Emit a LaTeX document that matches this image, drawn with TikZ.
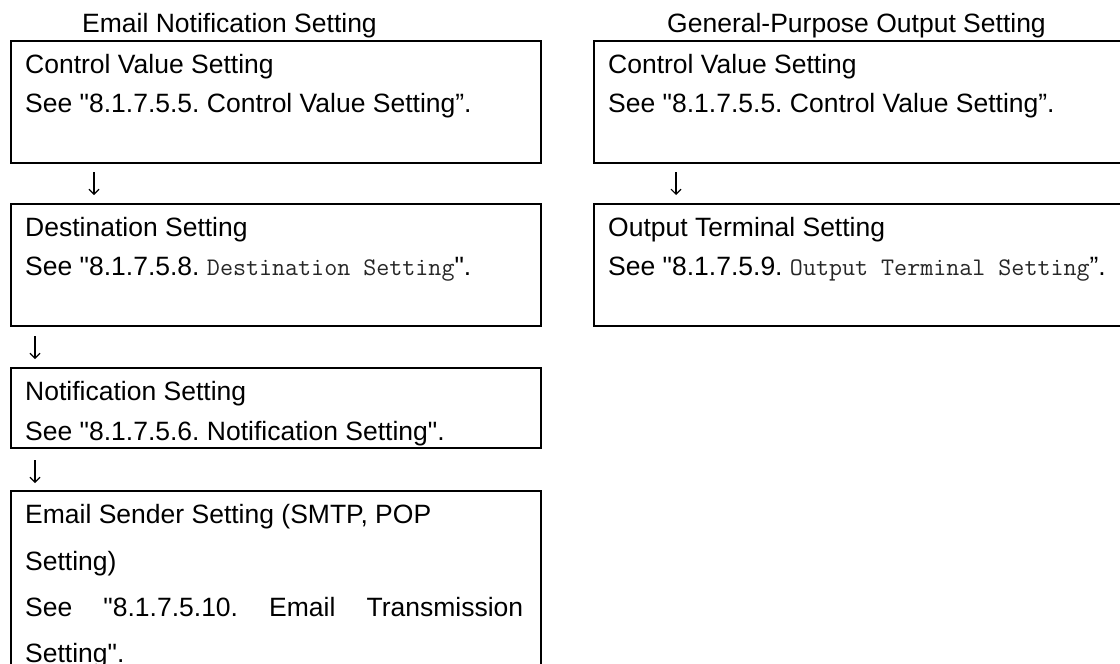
\documentclass[tikz,border=0pt]{standalone}
\usepackage{fontspec}
\newfontfamily\arialfont{Liberation Sans}
\newfontfamily\monofont{Latin Modern Mono}
\usetikzlibrary{arrows.meta}
\frenchspacing
\tikzset{
  box/.style={draw=black, line width=2pt, anchor=north west, inner sep=0pt, minimum width=530pt},
  rbox/.style={draw=black, line width=2pt, anchor=north west, inner sep=0pt, minimum width=560pt},
  txt/.style={anchor=base west, inner sep=0pt, font=\arialfont\fontsize{26.5pt}{30pt}\selectfont},
  flow/.style={line width=1.1pt, -{Straight Barb[length=5pt,width=10pt,line width=1.1pt]}}
}
\newcommand{\mt}[1]{{\color{black!85}\monofont\fontsize{25.3pt}{28pt}\selectfont #1}}
\begin{document}
\begin{tikzpicture}[x=1pt,y=-1pt]
\useasboundingbox (0,0) rectangle (1120,664);
\clip (0,0) rectangle (1120,664);
\fill[white] (0,0) rectangle (1120,664);

% titles
\node[txt] (t1) at (82,32) {Email Notification Setting};
\node[txt] (t2) at (667,32) {General-Purpose Output Setting};

% left column boxes
\node[box, minimum height=122pt] (b1) at (10,40) {};
\node[box, minimum height=122pt] (b2) at (10,203) {};
\node[box, minimum height=80pt] (b3) at (10,367) {};
\node[box, minimum height=220pt] (b4) at (10,490) {};

% right column boxes
\node[rbox, minimum height=122pt] (r1) at (593,40) {};
\node[rbox, minimum height=122pt] (r2) at (593,203) {};

% texts left
\node[txt] (b1a) at (25,73) {Control Value Setting};
\node[txt] (b1b) at (25,112) {See "8.1.7.5.5. Control Value Setting”.};
\node[txt] (b2a) at (25,236) {Destination Setting};
\node[txt] (b2b) at (25,275) {See "8.1.7.5.8. \mt{Destination Setting}".};
\node[txt] (b3a) at (25,400) {Notification Setting};
\node[txt] (b3b) at (25,440) {See "8.1.7.5.6. Notification Setting".};
\node[txt] (b4a) at (25,523) {Email Sender Setting (SMTP, POP};
\node[txt] (b4b) at (25,570) {Setting)};
\node[txt] (b4c) at (25,616) {\makebox[498pt][s]{See "8.1.7.5.10. Email Transmission}};
\node[txt] (b4d) at (25,662) {Setting".};

% texts right
\node[txt] (r1a) at (608,73) {Control Value Setting};
\node[txt] (r1b) at (608,112) {See "8.1.7.5.5. Control Value Setting”.};
\node[txt] (r2a) at (608,236) {Output Terminal Setting};
\node[txt] (r2b) at (608,275) {See "8.1.7.5.9. \mt{Output Terminal Setting}”.};

% arrows
\coordinate (a1s) at (94,172); \coordinate (a1e) at (94,195);
\coordinate (a2s) at (35,336); \coordinate (a2e) at (35,359);
\coordinate (a3s) at (35,460); \coordinate (a3e) at (35,483);
\coordinate (a4s) at (676,172); \coordinate (a4e) at (676,195);
\draw[flow] (a1s) -- (a1e);
\draw[flow] (a2s) -- (a2e);
\draw[flow] (a3s) -- (a3e);
\draw[flow] (a4s) -- (a4e);
\end{tikzpicture}
\end{document}
